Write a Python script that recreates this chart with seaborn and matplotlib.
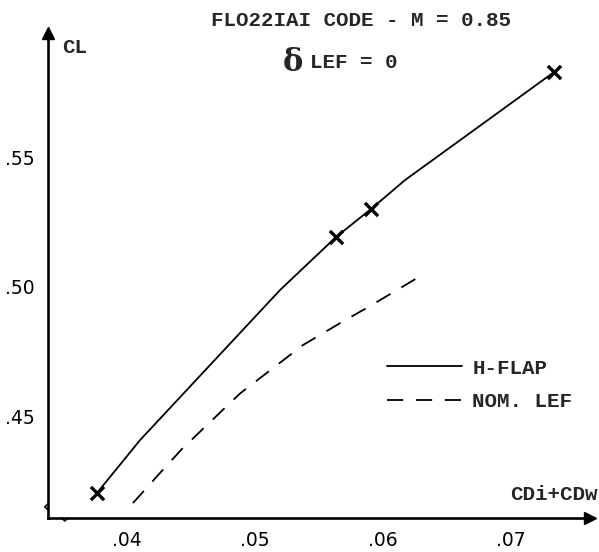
import matplotlib
matplotlib.use("Agg")
import matplotlib.pyplot as plt
import seaborn as sns
import pandas as pd

# ---- data ----
hflap_x = [0.03766, 0.04102, 0.05195, 0.05633, 0.05906, 0.06172, 0.06820, 0.07336]
hflap_y = [0.4203, 0.4407, 0.4986, 0.5191, 0.5299, 0.5411, 0.5643, 0.5828]
hflap_mark_x = [0.03766, 0.05633, 0.05906, 0.07336]
hflap_mark_y = [0.4203, 0.5191, 0.5299, 0.5828]
nom_x = [0.04047, 0.04258, 0.04430, 0.04883, 0.05375, 0.05680, 0.05914, 0.06281]
nom_y = [0.4164, 0.4280, 0.4373, 0.4587, 0.4774, 0.4863, 0.4929, 0.5037]
xticks = [0.04, 0.05, 0.06, 0.07]
xtick_labels = [".04", ".05", ".06", ".07"]
yticks = [0.45, 0.50, 0.55]
ytick_labels = [".45", ".50", ".55"]
series_names = ["H-FLAP", "NOM. LEF"]

sns.set_style("white")
plt.rcParams['font.family'] = ['Liberation Mono', 'DejaVu Sans']

W, H = 599, 552
fig = plt.figure(figsize=(W / 100, H / 100), dpi=100)
left, right, bottom, top = 48, 590, 518, 33
ax = fig.add_axes([left / W, 1 - bottom / H, (right - left) / W, (bottom - top) / H])

df_h = pd.DataFrame({"x": hflap_x, "y": hflap_y})
df_n = pd.DataFrame({"x": nom_x, "y": nom_y})
df_m = pd.DataFrame({"x": hflap_mark_x, "y": hflap_mark_y})

sns.lineplot(data=df_h, x="x", y="y", ax=ax, color="black", lw=1.3,
             sort=False, label=series_names[0])
sns.lineplot(data=df_n, x="x", y="y", ax=ax, color="black", lw=1.3,
             sort=False, dashes=False, label=series_names[1])
ax.lines[1].set_dashes((9, 7))
sns.scatterplot(data=df_m, x="x", y="y", ax=ax, marker="x", color="black",
                s=90, linewidth=2.4, zorder=5)

ax.set_xlim(0.03383, 0.07617)
ax.set_ylim(0.41062, 0.59788)
ax.set_xticks(xticks)
ax.set_xticklabels(xtick_labels, family="DejaVu Sans", fontsize=13.5)
ax.set_yticks(yticks)
ax.set_yticklabels(ytick_labels, family="DejaVu Sans", fontsize=13.5)
ax.tick_params(direction="inout", length=7, width=1.5, pad=6, colors="black")
ax.set_xlabel("")
ax.set_ylabel("")

for s in ["top", "right"]:
    ax.spines[s].set_visible(False)
for s in ["left", "bottom"]:
    ax.spines[s].set_linewidth(1.9)
    ax.spines[s].set_color("black")

# arrow heads
ax.plot([0], [1], marker="^", markersize=9, color="black",
        transform=ax.transAxes, clip_on=False)
ax.plot([1], [0], marker=">", markersize=9, color="black",
        transform=ax.transAxes, clip_on=False)

# axis break marks
ax.plot([0, -0.006, 0], [0.017, 0.023, 0.029], color="black", lw=1.2,
        transform=ax.transAxes, clip_on=False)
ax.plot([0.025, 0.031, 0.037], [0, -0.006, 0], color="black", lw=1.2,
        transform=ax.transAxes, clip_on=False)

# legend
leg = ax.legend(loc="center left", bbox_to_anchor=(387 / W, 1 - 385 / H),
                bbox_transform=fig.transFigure, frameon=False,
                prop={"size": 15, "weight": "bold"},
                handlelength=3.6, handletextpad=0.5, labelspacing=0.7,
                borderpad=0, borderaxespad=0)
leg.get_lines()[1].set_dashes((9, 7))

# titles and axis names
tkw = dict(fontsize=15, fontweight="bold")
fig.text(361 / W, 1 - 21 / H, "FLO22IAI CODE - M = 0.85", ha="center", va="center", **tkw)
fig.text(293 / W, 1 - 62 / H, "δ", ha="center", va="center", fontsize=22,
         fontweight="bold", family="DejaVu Serif")
fig.text(310 / W, 1 - 63 / H, "LEF = 0", ha="left", va="center", **tkw)
fig.text(62 / W, 1 - 48 / H, "CL", ha="left", va="center", **tkw)
fig.text(598 / W, 1 - 495 / H, "CDi+CDw", ha="right", va="center", **tkw)

fig.savefig("out.png", dpi=100)
